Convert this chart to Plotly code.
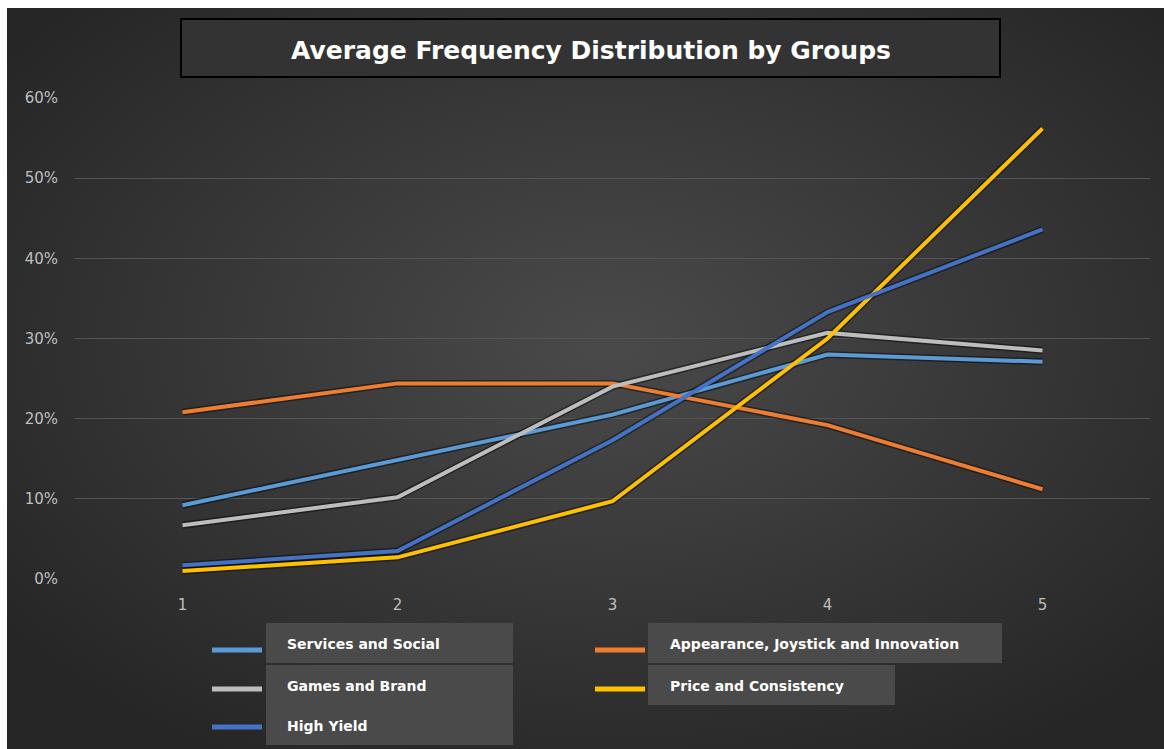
import base64
import plotly.graph_objects as go

# Survey score levels (x axis) and the share of answers at each level per group
levels = [1, 2, 3, 4, 5]
services_social = [0.092, 0.148, 0.205, 0.280, 0.271]
appearance_joystick = [0.208, 0.244, 0.244, 0.192, 0.112]
games_brand = [0.067, 0.102, 0.240, 0.307, 0.285]
price_consistency = [0.010, 0.027, 0.097, 0.300, 0.562]
high_yield = [0.017, 0.035, 0.173, 0.333, 0.436]

series = [
    ("Services and Social", services_social, "#5B9BD5"),
    ("Appearance, Joystick and Innovation", appearance_joystick, "#ED7D31"),
    ("Games and Brand", games_brand, "#BDBDBD"),
    ("Price and Consistency", price_consistency, "#FFC000"),
    ("High Yield", high_yield, "#4472C4"),
]

W, H = 1164, 749
ML, MR, MT, MB = 75, 14, 98, 170
PW, PH = W - ML - MR, H - MT - MB


def px(x):
    return (x - ML) / PW


def py(y):
    return (H - MB - y) / PH


fig = go.Figure()

# soft dark underlay that gives each line a shadowed edge
for name, vals, color in series:
    fig.add_trace(go.Scatter(
        x=levels, y=vals, mode="lines", hoverinfo="skip", showlegend=False,
        line=dict(color="rgba(0,0,0,0.45)", width=7),
    ))
for name, vals, color in series:
    fig.add_trace(go.Scatter(
        x=levels, y=vals, mode="lines", name=name, showlegend=False,
        line=dict(color=color, width=4),
    ))

# radial-gradient backdrop of the chart area
svg = (
    '<svg xmlns="http://www.w3.org/2000/svg" width="1157" height="741">'
    '<defs><radialGradient id="g" cx="52%" cy="45%" r="65%">'
    '<stop offset="0%" stop-color="#4a4a4a"/>'
    '<stop offset="100%" stop-color="#262626"/>'
    '</radialGradient></defs>'
    '<rect width="1157" height="741" fill="url(#g)"/></svg>'
)
bg_uri = "data:image/svg+xml;base64," + base64.b64encode(svg.encode()).decode()

shapes = []
annotations = []

# title box
shapes.append(dict(type="rect", xref="paper", yref="paper",
                   x0=px(181), x1=px(1000), y0=py(77), y1=py(19),
                   fillcolor="#333333", line=dict(color="#000000", width=2),
                   layer="above"))
annotations.append(dict(text="<b>Average Frequency Distribution by Groups</b>",
                        xref="paper", yref="paper", x=px(591), y=py(50),
                        xanchor="center", yanchor="middle", showarrow=False,
                        font=dict(family="DejaVu Sans", size=25, color="#FFFFFF")))

# legend panels
panels = [(266, 513, 623, 663), (266, 513, 665, 745),
          (648, 1002, 623, 663), (648, 895, 665, 705)]
for x0, x1, y0, y1 in panels:
    shapes.append(dict(type="rect", xref="paper", yref="paper",
                       x0=px(x0), x1=px(x1), y0=py(y1), y1=py(y0),
                       fillcolor="#4a4a4a", line=dict(width=0), layer="above"))

legend_pos = {
    "Services and Social": (212, 650, 285, 644),
    "Games and Brand": (212, 689, 285, 686),
    "High Yield": (212, 727, 285, 726),
    "Appearance, Joystick and Innovation": (595, 650, 668, 644),
    "Price and Consistency": (595, 689, 668, 686),
}
for name, vals, color in series:
    lx, ly, tx, ty = legend_pos[name]
    shapes.append(dict(type="line", xref="paper", yref="paper",
                       x0=px(lx), x1=px(lx + 50), y0=py(ly), y1=py(ly),
                       line=dict(color=color, width=5), layer="above"))
    annotations.append(dict(text="<b>" + name + "</b>", xref="paper", yref="paper",
                            x=px(tx), y=py(ty), xanchor="left", yanchor="middle",
                            showarrow=False,
                            font=dict(family="DejaVu Sans", size=14, color="#FFFFFF")))

tick_font = dict(family="DejaVu Sans", size=15, color="#BEBEBE")

fig.update_layout(
    width=W, height=H,
    margin=dict(l=ML, r=MR, t=MT, b=MB),
    paper_bgcolor="#FFFFFF",
    plot_bgcolor="rgba(0,0,0,0)",
    showlegend=False,
    images=[dict(source=bg_uri, xref="paper", yref="paper",
                 x=px(7), y=py(8), sizex=(W - 7) / PW, sizey=(H - 8) / PH,
                 xanchor="left", yanchor="top", sizing="stretch",
                 layer="below")],
    shapes=shapes,
    annotations=annotations,
    xaxis=dict(range=[0.5, 5.5], tickmode="array", tickvals=levels,
               ticktext=[str(v) for v in levels], showgrid=False,
               zeroline=False, showline=False, ticks="",
               ticklabelstandoff=15, tickfont=tick_font),
    yaxis=dict(range=[0, 0.6], tickvals=[0, 0.1, 0.2, 0.3, 0.4, 0.5, 0.6],
               tickformat=".0%", showgrid=True, gridcolor="#545454",
               gridwidth=1, zeroline=False, showline=False, ticks="",
               ticklabelstandoff=16, tickfont=tick_font),
)

fig.write_html("out.html")
